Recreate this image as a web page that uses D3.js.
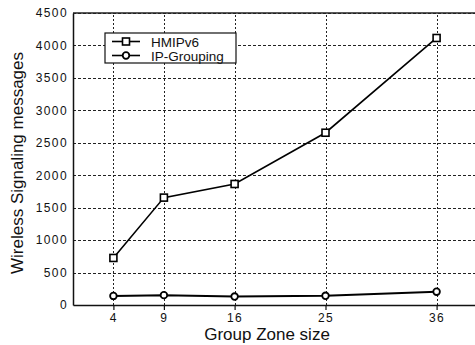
<!DOCTYPE html>
<html>
<head>
<meta charset="utf-8">
<script src="https://cdn.jsdelivr.net/npm/d3@7"></script>
<style>
	body { margin: 0; background: #fff; }
	svg { display: block; font-family: "Liberation Sans", Arial, sans-serif; }
	.tick text { font-size: 12px; letter-spacing: 1.4px; fill: #111; }
</style>
</head>
<body>
<div id="chart"></div>
<script>
var WIDTH = 475;
var HEIGHT = 345;

var zoneSizes = [4, 9, 16, 25, 36];
var hmipv6 = [725, 1655, 1865, 2655, 4115];
var ipGrouping = [140, 152, 130, 142, 205];
var yTicks = [0, 500, 1000, 1500, 2000, 2500, 3000, 3500, 4000, 4500];
var seriesNames = ['HMIPv6', 'IP-Grouping'];

var margin = {left: 73, top: 13, right: -2, bottom: 40};

function makeSVG() {
	var svg = d3.select('#chart').append('svg')
		.attr('width', WIDTH)
		.attr('height', HEIGHT);
	return svg;
}

var svg = makeSVG();

var x = d3.scaleLinear()
	.domain([0, 40])
	.range([margin.left, WIDTH - margin.right]);

var y = d3.scaleLinear()
	.domain([0, 4500])
	.range([HEIGHT - margin.bottom, margin.top]);

// grid, dotted like matlab's ':'
svg.append('g').selectAll('line')
	.data(yTicks.slice(1))
	.join('line')
	.attr('x1', x(0)).attr('x2', x(40))
	.attr('y1', function(d) { return Math.round(y(d)) + 0.5; })
	.attr('y2', function(d) { return Math.round(y(d)) + 0.5; })
	.attr('stroke', '#222')
	.attr('stroke-width', 1)
	.attr('stroke-dasharray', '3,2');

svg.append('g').selectAll('line')
	.data(zoneSizes)
	.join('line')
	.attr('x1', function(d) { return Math.round(x(d)) + 0.5; })
	.attr('x2', function(d) { return Math.round(x(d)) + 0.5; })
	.attr('y1', y(0)).attr('y2', y(4500))
	.attr('stroke', '#222')
	.attr('stroke-width', 1)
	.attr('stroke-dasharray', '2,2');

// axes
var xAxis = svg.append('g')
	.attr('transform', 'translate(0,' + y(0) + ')')
	.call(d3.axisBottom(x).tickValues(zoneSizes).tickSize(5).tickPadding(3).tickSizeOuter(0));

var yAxis = svg.append('g')
	.attr('transform', 'translate(' + x(0) + ',0)')
	.call(d3.axisLeft(y).tickValues(yTicks).tickFormat(d3.format('d')).tickSize(0).tickPadding(5).tickSizeOuter(0));

[xAxis, yAxis].forEach(function(a) {
	a.select('.domain').attr('stroke', '#111').attr('stroke-width', 1.5);
	a.selectAll('.tick line').attr('stroke', '#111').attr('stroke-width', 1.2);
	a.selectAll('.tick text').attr('font-family', null).attr('font-size', null);
});

// top border
svg.append('line')
	.attr('x1', x(0)).attr('x2', x(40))
	.attr('y1', y(4500)).attr('y2', y(4500))
	.attr('stroke', '#222')
	.attr('stroke-width', 1.5);

// axis titles
svg.append('text')
	.attr('x', 267)
	.attr('y', 340)
	.attr('text-anchor', 'middle')
	.attr('font-size', 17)
	.attr('fill', '#111')
	.text('Group Zone size');

svg.append('text')
	.attr('transform', 'translate(23,' + 163 + ') rotate(-90)')
	.attr('text-anchor', 'middle')
	.attr('font-size', 17)
	.attr('fill', '#111')
	.text('Wireless Signaling messages');

// series
var line = d3.line()
	.x(function(d) { return x(d[0]); })
	.y(function(d) { return y(d[1]); });

var hmData = d3.zip(zoneSizes, hmipv6);
var ipData = d3.zip(zoneSizes, ipGrouping);

svg.append('path')
	.attr('d', line(hmData))
	.attr('fill', 'none')
	.attr('stroke', '#000')
	.attr('stroke-width', 1.6);

svg.append('path')
	.attr('d', line(ipData))
	.attr('fill', 'none')
	.attr('stroke', '#000')
	.attr('stroke-width', 2);

function drawSquare(g, cx, cy) {
	g.append('rect')
		.attr('x', cx - 3.5).attr('y', cy - 3.5)
		.attr('width', 7).attr('height', 7)
		.attr('fill', '#fff')
		.attr('stroke', '#000')
		.attr('stroke-width', 1.6);
}

function drawCircle(g, cx, cy) {
	g.append('circle')
		.attr('cx', cx).attr('cy', cy)
		.attr('r', 3.3)
		.attr('fill', '#fff')
		.attr('stroke', '#000')
		.attr('stroke-width', 1.8);
}

var marks = svg.append('g');
hmData.forEach(function(d) { drawSquare(marks, x(d[0]), y(d[1])); });
ipData.forEach(function(d) { drawCircle(marks, x(d[0]), y(d[1])); });

// legend
var legend = svg.append('g');
legend.append('rect')
	.attr('x', 105).attr('y', 33)
	.attr('width', 131).attr('height', 30)
	.attr('fill', '#fff')
	.attr('stroke', '#111')
	.attr('stroke-width', 1.2);

var rowY = [41.5, 55.5];
seriesNames.forEach(function(name, i) {
	legend.append('line')
		.attr('x1', 112).attr('x2', 140)
		.attr('y1', rowY[i]).attr('y2', rowY[i])
		.attr('stroke', '#000')
		.attr('stroke-width', 1.6);
	if (i === 0) drawSquare(legend, 126, rowY[i]);
	else drawCircle(legend, 126, rowY[i]);
	legend.append('text')
		.attr('x', 151)
		.attr('y', rowY[i] + 5)
		.attr('font-size', 13.5)
		.attr('fill', '#111')
		.text(name);
});
</script>
</body>
</html>
